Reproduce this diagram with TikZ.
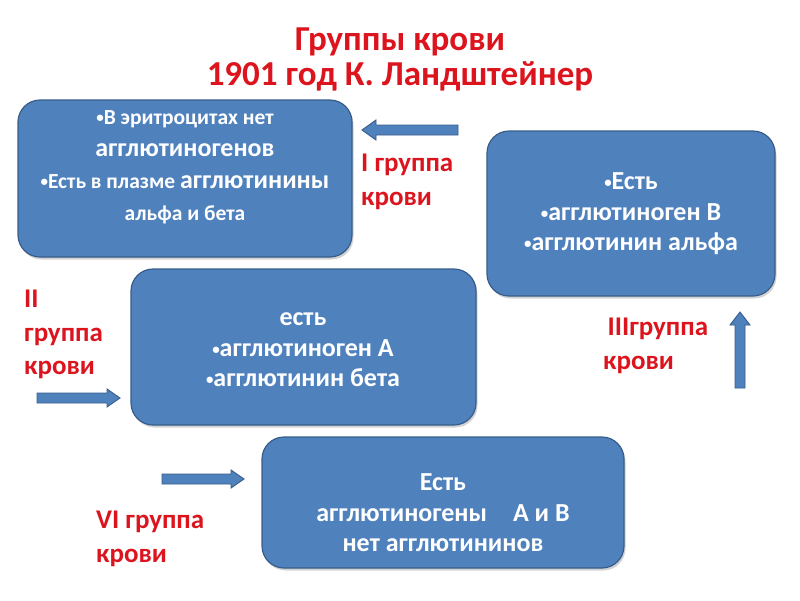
\documentclass[tikz,border=0pt]{standalone}
\usepackage{fontspec}
\setmainfont{Carlito}
\usetikzlibrary{shadows}
\definecolor{boxblue}{RGB}{79,129,189}
\definecolor{boxedge}{RGB}{56,93,138}
\definecolor{lblred}{RGB}{220,20,30}
\newcommand\smbul{{\fontsize{15}{15}\selectfont\raisebox{2pt}{•}}}
\begin{document}
\begin{tikzpicture}[x=1pt,y=-1pt,
  bluebox/.style={draw=boxedge,line width=1.2pt,fill=boxblue,rounded corners=22pt,
    drop shadow={shadow xshift=1.5pt,shadow yshift=-2.5pt,opacity=0.35}},
  boxtext/.style={text=white,font=\bfseries\fontsize{26}{30.5}\selectfont,align=center,inner sep=0pt},
  redlbl/.style={text=lblred,font=\bfseries\fontsize{27}{33.5}\selectfont,align=left,inner sep=0pt},
  blockarrow/.style={draw=boxedge,line width=0.9pt,fill=boxblue}]
\useasboundingbox (0,0) rectangle (800,600);
% title
\node[text=lblred,font=\bfseries\fontsize{35}{34.5}\selectfont,align=center,inner sep=0pt] (title) at (400,59.5)
  {Группы крови\\1901 год К. Ландштейнер};
% boxes
\draw[bluebox] (18,100) rectangle (352,257);
\node[text=white,font=\bfseries\fontsize{26}{32}\selectfont,align=center,inner sep=0pt] (t1) at (185,167)
  {{\fontsize{21.5}{32}\selectfont \smbul В эритроцитах нет}\\
   агглютиногенов\\
   {\fontsize{21.5}{32}\selectfont \smbul Есть в плазме }агглютинины\\
   {\fontsize{21.5}{32}\selectfont альфа и бета}};
\draw[bluebox] (487,131) rectangle (775,296);
\node[boxtext] (t2) at (631,214) {\smbul Есть\\\smbul агглютиноген В\\\smbul агглютинин альфа};
\draw[bluebox] (131,269) rectangle (476,425);
\node[boxtext] (t3) at (303,350) {есть\\\smbul агглютиноген А\\\smbul агглютинин бета};
\draw[bluebox] (262,437) rectangle (624,568);
\node[boxtext] (t4) at (443,513) {Есть\\агглютиногены\quad А и В\\нет агглютининов};
% arrows
\draw[blockarrow] (362,130) -- (376,120) -- (376,125) -- (458,125) -- (458,135) -- (376,135) -- (376,140) -- cycle;
\draw[blockarrow] (120,398) -- (107,389) -- (107,393) -- (37,393) -- (37,403) -- (107,403) -- (107,407) -- cycle;
\draw[blockarrow] (244,479) -- (231,470) -- (231,474) -- (162,474) -- (162,484) -- (231,484) -- (231,488) -- cycle;
\draw[blockarrow] (740,312) -- (750,325) -- (745,325) -- (745,388) -- (735,388) -- (735,325) -- (730,325) -- cycle;
% labels
\node[redlbl,anchor=north west] (l1) at (361,154) {I группа\\крови};
\node[redlbl,anchor=north west] (l2) at (24,290) {II\\группа\\крови};
\node[redlbl,anchor=north west] (l3) at (603,318) {\,IIIгруппа\\крови};
\node[redlbl,anchor=north west] (l4) at (96,511) {VI группа\\крови};
\end{tikzpicture}
\end{document}
